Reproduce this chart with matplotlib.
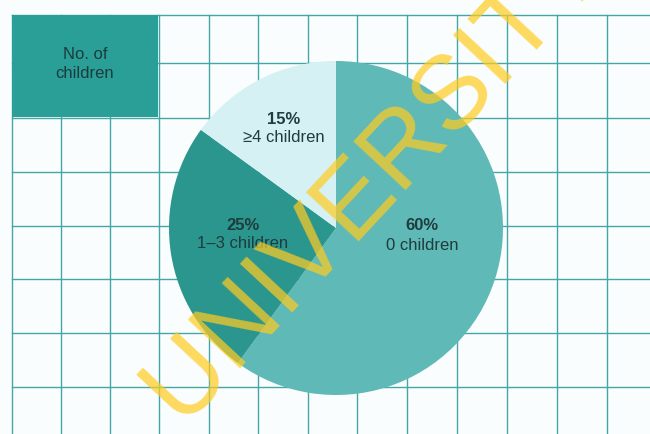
import matplotlib
matplotlib.use('Agg')
import matplotlib.pyplot as plt
from matplotlib.patches import Rectangle

# share of families by number of children
shares = [60, 25, 15]
groups = ['0 children', '1\u20133 children', '\u22654 children']
colours = ['#5fb9b7', '#2a968e', '#d6f1f3']
title = 'No. of\nchildren'
stamp = 'UNIVERSITY'

plt.rcParams['font.family'] = ['Liberation Sans', 'DejaVu Sans']

W, H = 650, 434
fig = plt.figure(figsize=(W / 100, H / 100), dpi=100)
fig.patch.set_facecolor('#f9fdfd')
ax = fig.add_axes([0, 0, 1, 1])
ax.set_facecolor('#f9fdfd')

# background grid, pixel units, y down
grid_col = '#44a6a7'
xs = [12, 61, 110, 159, 209, 258, 308, 357, 407, 457, 507, 557, 607]
ys = [15, 63, 118, 172, 226, 279, 333, 387]
for x in xs:
    ax.plot([x, x], [15, H], color=grid_col, lw=1.0, zorder=1)
for y in ys:
    ax.plot([12, W], [y, y], color=grid_col, lw=1.0, zorder=1)

# title box
ax.add_patch(Rectangle((12, 15), 146, 102, facecolor='#2a9f97',
                       edgecolor='none', zorder=2))
ax.text(85, 64, title, ha='center', va='center', fontsize=12,
        color='#1b3b3c', linespacing=1.3, zorder=3)

# pie: y axis is inverted, so start at -90 and run "counterclockwise"
wedges, _ = ax.pie(shares, colors=colours, startangle=-90, counterclock=True,
                   center=(336, 228), radius=167, frame=True,
                   wedgeprops=dict(linewidth=0))
for w in wedges:
    w.set_zorder(2)

label_pos = [(422, 226), (243, 225), (284, 119)]
for (x, y), s, g in zip(label_pos, shares, groups):
    ax.text(x, y, '%d%%' % s, ha='center', va='center', fontsize=12,
            fontweight='bold', color='#1f3c3e', zorder=4)
    ax.text(x, y + 19, g, ha='center', va='center', fontsize=12,
            color='#1f3c3e', zorder=4)

# diagonal stamp across the chart
ax.text(375, 177, stamp, rotation=47, rotation_mode='anchor', ha='center',
        va='center', fontsize=75, color='#ffcc22', alpha=0.72, zorder=5)

ax.set_xlim(0, W)
ax.set_ylim(H, 0)
ax.set_aspect('auto')
ax.axis('off')

plt.savefig('out.png', dpi=100, facecolor=fig.get_facecolor())
